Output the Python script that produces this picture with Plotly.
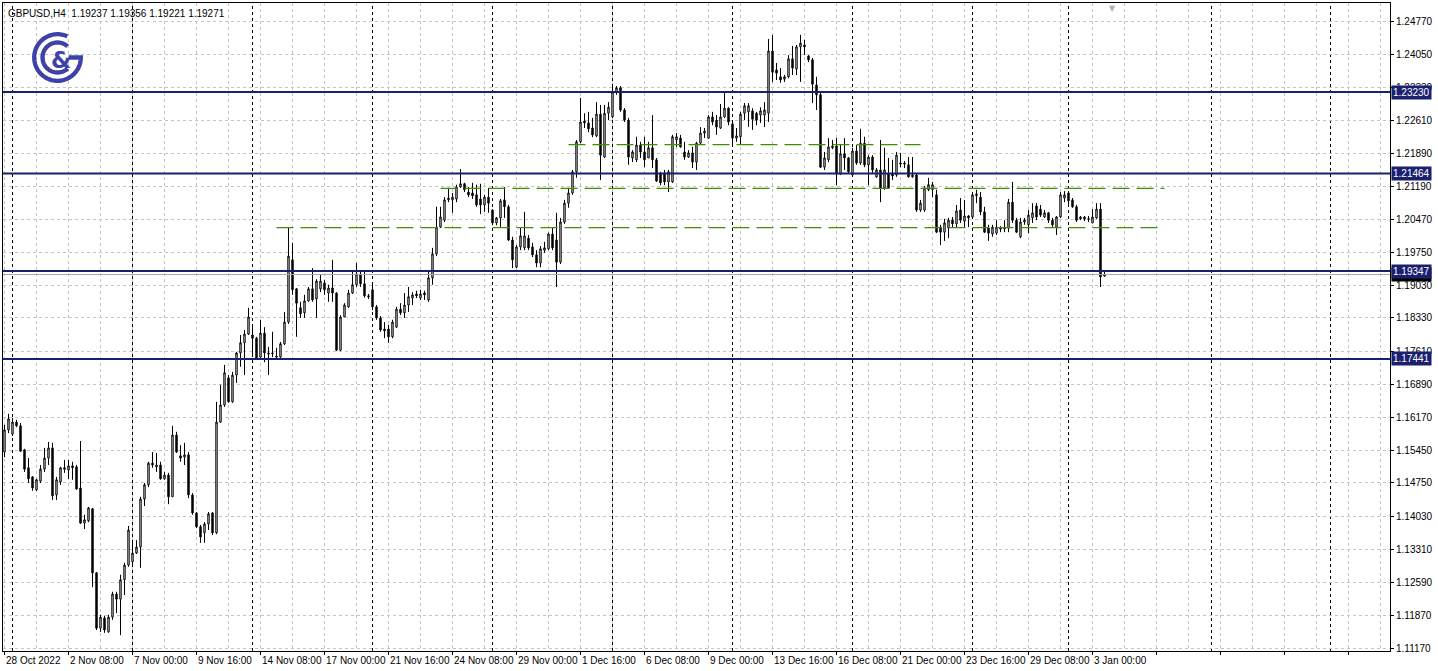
import numpy as np
import plotly.graph_objects as go

# ---------------- data (GBPUSD H4) ----------------
open_ = [
    1.1542, 1.1590, 1.1581, 1.1607, 1.1599, 1.1547, 1.1508, 1.1488, 1.1460, 1.1479,
    1.1505, 1.1529, 1.1551, 1.1449, 1.1477, 1.1508, 1.1503, 1.1512, 1.1510, 1.1464,
    1.1388, 1.1393, 1.1419, 1.1280, 1.1160, 1.1182, 1.1152, 1.1184, 1.1234, 1.1223,
    1.1265, 1.1297, 1.1304, 1.1323, 1.1336, 1.1440, 1.1471, 1.1518, 1.1510, 1.1514,
    1.1484, 1.1492, 1.1445, 1.1579, 1.1534, 1.1531, 1.1536, 1.1449, 1.1410, 1.1380,
    1.1367, 1.1386, 1.1410, 1.1367, 1.1607, 1.1644, 1.1703, 1.1651, 1.1709, 1.1757,
    1.1779, 1.1798, 1.1796, 1.1789, 1.1748, 1.1800, 1.1757, 1.1757, 1.1750, 1.1748,
    1.1777, 1.1824, 1.1959, 1.1896, 1.1855, 1.1844, 1.1870, 1.1896, 1.1874, 1.1896,
    1.1909, 1.1887, 1.1898, 1.1887, 1.1763, 1.1835, 1.1857, 1.1887, 1.1905, 1.1928,
    1.1907, 1.1881, 1.1894, 1.1857, 1.1833, 1.1809, 1.1809, 1.1792, 1.1813, 1.1852,
    1.1844, 1.1861, 1.1876, 1.1885, 1.1876, 1.1887, 1.1872, 1.1920, 1.1972, 1.2030,
    1.2045, 1.2089, 1.2089, 1.2091, 1.2117, 1.2124, 1.2106, 1.2104, 1.2100, 1.2091,
    1.2078, 1.2095, 1.2067, 1.2039, 1.2050, 1.2089, 1.2074, 1.2002, 1.1943, 1.1987,
    1.1985, 1.2006, 1.1987, 1.1970, 1.1952, 1.1980, 1.1983, 1.2015, 1.2002, 1.1954,
    1.2041, 1.2082, 1.2104, 1.2150, 1.2215, 1.2260, 1.2256, 1.2245, 1.2228, 1.2275,
    1.2182, 1.2277, 1.2269, 1.2323, 1.2332, 1.2284, 1.2262, 1.2180, 1.2176, 1.2208,
    1.2193, 1.2180, 1.2202, 1.2176, 1.2147, 1.2147, 1.2128, 1.2128, 1.2219, 1.2223,
    1.2193, 1.2182, 1.2191, 1.2171, 1.2212, 1.2234, 1.2223, 1.2269, 1.2262, 1.2245,
    1.2269, 1.2288, 1.2254, 1.2223, 1.2226, 1.2277, 1.2280, 1.2282, 1.2277, 1.2273,
    1.2273, 1.2277, 1.2412, 1.2371, 1.2356, 1.2351, 1.2356, 1.2395, 1.2373, 1.2421,
    1.2425, 1.2401, 1.2393, 1.2338, 1.2317, 1.2160, 1.2176, 1.2202, 1.2206, 1.2145,
    1.2189, 1.2180, 1.2143, 1.2195, 1.2169, 1.2212, 1.2165, 1.2182, 1.2139, 1.2154,
    1.2115, 1.2147, 1.2147, 1.2143, 1.2169, 1.2169, 1.2165, 1.2139, 1.2143, 1.2067,
    1.2067, 1.2111, 1.2111, 1.2100, 1.2030, 1.2019, 1.2028, 1.2045, 1.2037, 1.2067,
    1.2043, 1.2054, 1.2052, 1.2098, 1.2095, 1.2063, 1.2028, 1.2015, 1.2017, 1.2028,
    1.2026, 1.2028, 1.2084, 1.2045, 1.2009, 1.2041, 1.2035, 1.2050, 1.2076, 1.2069,
    1.2052, 1.2061, 1.2045, 1.2030, 1.2052, 1.2093, 1.2104, 1.2089, 1.2074, 1.2048,
    1.2052, 1.2048, 1.2039, 1.2050, 1.2069, 1.19237,
]
high = [
    1.1601, 1.1625, 1.1616, 1.1612, 1.1605, 1.1549, 1.1529, 1.1490, 1.1484, 1.1514,
    1.1551, 1.1564, 1.1562, 1.1488, 1.1510, 1.1525, 1.1525, 1.1521, 1.1514, 1.1566,
    1.1406, 1.1423, 1.1421, 1.1282, 1.1189, 1.1187, 1.1189, 1.1239, 1.1239, 1.1276,
    1.1302, 1.1382, 1.1351, 1.1351, 1.1445, 1.1475, 1.1521, 1.1542, 1.1540, 1.1521,
    1.1499, 1.1497, 1.1599, 1.1586, 1.1557, 1.1562, 1.1542, 1.1453, 1.1412, 1.1384,
    1.1390, 1.1412, 1.1412, 1.1651, 1.1688, 1.1731, 1.1709, 1.1716, 1.1759, 1.1796,
    1.1807, 1.1855, 1.1818, 1.1792, 1.1829, 1.1813, 1.1770, 1.1803, 1.1768, 1.1781,
    1.1846, 1.2030, 1.1996, 1.1898, 1.1868, 1.1883, 1.1900, 1.1941, 1.1917, 1.1926,
    1.1915, 1.1905, 1.1959, 1.1889, 1.1839, 1.1865, 1.1894, 1.1933, 1.1952, 1.1937,
    1.1937, 1.1885, 1.1905, 1.1861, 1.1837, 1.1824, 1.1818, 1.1829, 1.1857, 1.1865,
    1.1887, 1.1900, 1.1889, 1.1892, 1.1894, 1.1892, 1.1937, 1.1985, 1.2074, 1.2074,
    1.2095, 1.2115, 1.2104, 1.2122, 1.2156, 1.2126, 1.2117, 1.2126, 1.2122, 1.2124,
    1.2100, 1.2115, 1.2069, 1.2052, 1.2091, 1.2117, 1.2078, 1.2009, 1.1991, 1.2030,
    1.2063, 1.2013, 1.1996, 1.1980, 1.1989, 1.1998, 1.2018, 1.2030, 1.2061, 1.2050,
    1.2089, 1.2115, 1.2154, 1.2219, 1.2310, 1.2277, 1.2280, 1.2267, 1.2301, 1.2295,
    1.2295, 1.2301, 1.2334, 1.2336, 1.2336, 1.2288, 1.2267, 1.2197, 1.2226, 1.2215,
    1.2226, 1.2215, 1.2273, 1.2180, 1.2150, 1.2154, 1.2154, 1.2230, 1.2234, 1.2230,
    1.2215, 1.2197, 1.2204, 1.2215, 1.2247, 1.2245, 1.2273, 1.2280, 1.2273, 1.2297,
    1.2323, 1.2290, 1.2258, 1.2245, 1.2280, 1.2299, 1.2299, 1.2288, 1.2280, 1.2290,
    1.2301, 1.2438, 1.2447, 1.2386, 1.2375, 1.2360, 1.2403, 1.2423, 1.2425, 1.2447,
    1.2436, 1.2403, 1.2397, 1.2356, 1.2321, 1.2193, 1.2223, 1.2219, 1.2223, 1.2208,
    1.2223, 1.2182, 1.2202, 1.2208, 1.2243, 1.2226, 1.2186, 1.2186, 1.2158, 1.2219,
    1.2202, 1.2180, 1.2176, 1.2193, 1.2191, 1.2173, 1.2182, 1.2182, 1.2147, 1.2089,
    1.2119, 1.2137, 1.2128, 1.2111, 1.2035, 1.2048, 1.2050, 1.2052, 1.2078, 1.2093,
    1.2089, 1.2056, 1.2106, 1.2111, 1.2106, 1.2074, 1.2035, 1.2035, 1.2045, 1.2032,
    1.2045, 1.2091, 1.2128, 1.2050, 1.2050, 1.2050, 1.2067, 1.2082, 1.2082, 1.2078,
    1.2067, 1.2063, 1.2050, 1.2054, 1.2106, 1.2108, 1.2108, 1.2093, 1.2078, 1.2054,
    1.2054, 1.2054, 1.2069, 1.2082, 1.2082, 1.19356,
]
low = [
    1.1531, 1.1583, 1.1577, 1.1596, 1.1542, 1.1499, 1.1475, 1.1458, 1.1458, 1.1475,
    1.1499, 1.1514, 1.1438, 1.1438, 1.1471, 1.1497, 1.1484, 1.1482, 1.1460, 1.1386,
    1.1375, 1.1390, 1.1249, 1.1156, 1.1152, 1.1150, 1.1150, 1.1178, 1.1193, 1.1145,
    1.1232, 1.1293, 1.1293, 1.1321, 1.1291, 1.1425, 1.1466, 1.1508, 1.1499, 1.1482,
    1.1482, 1.1429, 1.1445, 1.1540, 1.1521, 1.1514, 1.1442, 1.1406, 1.1377, 1.1345,
    1.1345, 1.1373, 1.1362, 1.1364, 1.1605, 1.1640, 1.1649, 1.1649, 1.1692, 1.1727,
    1.1709, 1.1796, 1.1748, 1.1742, 1.1746, 1.1737, 1.1709, 1.1748, 1.1744, 1.1746,
    1.1774, 1.1820, 1.1883, 1.1792, 1.1833, 1.1833, 1.1868, 1.1868, 1.1833, 1.1889,
    1.1883, 1.1868, 1.1868, 1.1761, 1.1761, 1.1835, 1.1855, 1.1885, 1.1900, 1.1900,
    1.1877, 1.1874, 1.1850, 1.1829, 1.1803, 1.1789, 1.1779, 1.1789, 1.1811, 1.1839,
    1.1833, 1.1846, 1.1861, 1.1876, 1.1872, 1.1872, 1.1868, 1.1905, 1.1967, 1.2028,
    1.2041, 1.2084, 1.2061, 1.2084, 1.2115, 1.2106, 1.2095, 1.2091, 1.2074, 1.2058,
    1.2063, 1.2061, 1.2034, 1.2034, 1.2028, 1.2050, 1.2000, 1.1941, 1.1941, 1.1980,
    1.1980, 1.1980, 1.1965, 1.1943, 1.1943, 1.1974, 1.1980, 1.1980, 1.1900, 1.1950,
    1.2037, 1.2072, 1.2100, 1.2137, 1.2212, 1.2245, 1.2236, 1.2225, 1.2225, 1.2132,
    1.2180, 1.2262, 1.2267, 1.2317, 1.2280, 1.2258, 1.2165, 1.2171, 1.2171, 1.2180,
    1.2160, 1.2180, 1.2158, 1.2128, 1.2121, 1.2121, 1.2106, 1.2126, 1.2204, 1.2202,
    1.2176, 1.2180, 1.2158, 1.2154, 1.2208, 1.2223, 1.2221, 1.2251, 1.2230, 1.2243,
    1.2267, 1.2251, 1.2208, 1.2215, 1.2208, 1.2262, 1.2247, 1.2241, 1.2251, 1.2256,
    1.2247, 1.2258, 1.2345, 1.2349, 1.2343, 1.2345, 1.2353, 1.2360, 1.2360, 1.2345,
    1.2403, 1.2388, 1.2299, 1.2284, 1.2158, 1.2154, 1.2171, 1.2199, 1.2121, 1.2143,
    1.2154, 1.2147, 1.2139, 1.2165, 1.2165, 1.2160, 1.2121, 1.2147, 1.2137, 1.2084,
    1.2111, 1.2113, 1.2132, 1.2139, 1.2160, 1.2158, 1.2137, 1.2137, 1.2063, 1.2063,
    1.2063, 1.2108, 1.2095, 1.2017, 1.1991, 1.2000, 1.2006, 1.2030, 1.2030, 1.2039,
    1.2030, 1.2030, 1.2050, 1.2082, 1.2056, 1.2017, 1.2000, 1.2009, 1.2013, 1.2019,
    1.2019, 1.2019, 1.2039, 1.2017, 1.2006, 1.2035, 1.2017, 1.2039, 1.2045, 1.2052,
    1.2050, 1.2039, 1.2028, 1.2013, 1.2050, 1.2084, 1.2074, 1.2072, 1.2041, 1.2045,
    1.2043, 1.2041, 1.2039, 1.2048, 1.1900, 1.19221,
]
close = [
    1.1590, 1.1614, 1.1607, 1.1599, 1.1544, 1.1505, 1.1484, 1.1464, 1.1482, 1.1505,
    1.1529, 1.1551, 1.1447, 1.1482, 1.1508, 1.1505, 1.1512, 1.1508, 1.1462, 1.1388,
    1.1395, 1.1421, 1.1280, 1.1160, 1.1184, 1.1156, 1.1184, 1.1234, 1.1223, 1.1265,
    1.1297, 1.1373, 1.1323, 1.1336, 1.1440, 1.1471, 1.1518, 1.1514, 1.1514, 1.1484,
    1.1492, 1.1445, 1.1579, 1.1542, 1.1529, 1.1536, 1.1449, 1.1410, 1.1380, 1.1358,
    1.1386, 1.1408, 1.1367, 1.1607, 1.1644, 1.1714, 1.1651, 1.1709, 1.1757, 1.1779,
    1.1798, 1.1835, 1.1789, 1.1746, 1.1800, 1.1757, 1.1755, 1.1756, 1.1748, 1.1777,
    1.1824, 1.1967, 1.1894, 1.1865, 1.1842, 1.1870, 1.1896, 1.1872, 1.1913, 1.1913,
    1.1894, 1.1898, 1.1887, 1.1763, 1.1835, 1.1861, 1.1887, 1.1905, 1.1928, 1.1907,
    1.1881, 1.1879, 1.1857, 1.1833, 1.1807, 1.1805, 1.1792, 1.1824, 1.1852, 1.1844,
    1.1861, 1.1879, 1.1883, 1.1881, 1.1885, 1.1883, 1.1920, 1.1972, 1.2030, 1.2052,
    1.2089, 1.2093, 1.2095, 1.2117, 1.2124, 1.2111, 1.2100, 1.2098, 1.2078, 1.2078,
    1.2095, 1.2082, 1.2039, 1.2050, 1.2087, 1.2074, 1.2002, 1.1959, 1.1987, 1.2011,
    1.2011, 1.1985, 1.1970, 1.1952, 1.1983, 1.1985, 1.2015, 1.1985, 1.1954, 1.2041,
    1.2082, 1.2104, 1.2150, 1.2215, 1.2258, 1.2256, 1.2243, 1.2230, 1.2275, 1.2186,
    1.2277, 1.2290, 1.2323, 1.2332, 1.2284, 1.2262, 1.2182, 1.2193, 1.2208, 1.2193,
    1.2176, 1.2202, 1.2176, 1.2130, 1.2126, 1.2128, 1.2150, 1.2226, 1.2226, 1.2204,
    1.2182, 1.2191, 1.2171, 1.2212, 1.2234, 1.2238, 1.2269, 1.2258, 1.2247, 1.2269,
    1.2288, 1.2258, 1.2223, 1.2228, 1.2275, 1.2293, 1.2293, 1.2264, 1.2262, 1.2282,
    1.2284, 1.2412, 1.2366, 1.2364, 1.2349, 1.2356, 1.2395, 1.2375, 1.2421, 1.2429,
    1.2421, 1.2393, 1.2340, 1.2317, 1.2160, 1.2180, 1.2204, 1.2206, 1.2145, 1.2189,
    1.2180, 1.2150, 1.2195, 1.2169, 1.2212, 1.2165, 1.2182, 1.2154, 1.2154, 1.2115,
    1.2154, 1.2115, 1.2141, 1.2186, 1.2167, 1.2167, 1.2139, 1.2143, 1.2067, 1.2082,
    1.2115, 1.2122, 1.2122, 1.2019, 1.2019, 1.2039, 1.2045, 1.2037, 1.2065, 1.2045,
    1.2054, 1.2050, 1.2100, 1.2102, 1.2063, 1.2019, 1.2017, 1.2030, 1.2030, 1.2026,
    1.2030, 1.2084, 1.2045, 1.2019, 1.2041, 1.2045, 1.2056, 1.2061, 1.2052, 1.2056,
    1.2061, 1.2045, 1.2035, 1.2052, 1.2100, 1.2100, 1.2087, 1.2074, 1.2045, 1.2052,
    1.2048, 1.2047, 1.2052, 1.2069, 1.1922, 1.19271,
]
bar_index = list(range(len(open_)))

# time axis labels (bar positions on the H4 axis, weekends skipped)
date_tick_bars = [0, 16, 32, 48, 64, 80, 96, 112, 128, 144, 160, 176, 192, 208, 224, 240, 256, 272]
date_tick_labels = ["28 Oct 2022", "2 Nov 08:00", "7 Nov 00:00", "9 Nov 16:00", "14 Nov 08:00",
                    "17 Nov 00:00", "21 Nov 16:00", "24 Nov 08:00", "29 Nov 00:00", "1 Dec 16:00",
                    "6 Dec 08:00", "9 Dec 00:00", "13 Dec 16:00", "16 Dec 08:00", "21 Dec 00:00",
                    "23 Dec 16:00", "29 Dec 08:00", "3 Jan 00:00"]
week_separator_bars = [2, 32, 62, 92, 122, 152, 182, 212, 242, 266, 301.75, 331.5]

price_ticks = [1.24770, 1.24050, 1.23330, 1.22610, 1.21890, 1.21190, 1.20470, 1.19750, 1.19030,
               1.18330, 1.17610, 1.16890, 1.16170, 1.15450, 1.14750, 1.14030, 1.13310, 1.12590,
               1.11870, 1.11170]

level_prices = [1.23230, 1.21464, 1.19347, 1.17441]
zone_prices = [1.2209, 1.2114, 1.2029]
zone_start_bar = [141, 109, 68]
zone_end_bar = [229, 290, 288.5]
bid_price = 1.19271
symbol_title = "GBPUSD,H4  1.19237 1.19356 1.19221 1.19271"

# ---------------- styling ----------------
NAVY = "#1b1f6e"
GREEN = "#3f8f00"
GRID = "#c4c4c4"
LOGO = "#3d41a8"
FONT = "Liberation Sans"

fig = go.Figure()
fig.add_trace(go.Candlestick(
    x=bar_index, open=open_, high=high, low=low, close=close,
    increasing=dict(line=dict(color="black", width=1), fillcolor="white"),
    decreasing=dict(line=dict(color="black", width=1), fillcolor="black"),
    whiskerwidth=0, hoverinfo="skip", showlegend=False,
))

shapes = []
for b in week_separator_bars:
    shapes.append(dict(type="line", xref="x", yref="paper", x0=b, x1=b, y0=0, y1=1,
                       line=dict(color="black", width=1, dash="3px,3px"), layer="between"))
shapes.append(dict(type="line", xref="paper", yref="y", x0=0, x1=1, y0=bid_price, y1=bid_price,
                   line=dict(color="#a8a8a8", width=1)))
for p in level_prices:
    shapes.append(dict(type="line", xref="paper", yref="y", x0=0, x1=1, y0=p, y1=p,
                       line=dict(color=NAVY, width=2)))
for p, s, e in zip(zone_prices, zone_start_bar, zone_end_bar):
    shapes.append(dict(type="line", xref="x", yref="y", x0=s, x1=e, y0=p, y1=p,
                       line=dict(color=GREEN, width=1.3, dash="17px,7px")))


# logo (pixel-sized paths anchored at the plot's top-left corner)
def arc(cx, cy, r, a0, a1, n=80):
    t = np.radians(np.linspace(a0, a1, n))
    return [(cx + r * np.cos(a), cy + r * np.sin(a)) for a in t]


def to_path(pts):
    return "M " + " L ".join(f"{x:.2f},{y:.2f}" for x, y in pts)


cx, cy = 54.5, -54.5
outer = arc(cx, cy, 23.3, 65, 360) + [(cx + 11, cy)]
inner = arc(cx, cy, 15.0, 48, 312)
for pts in (outer, inner):
    shapes.append(dict(type="path", xref="paper", yref="paper", xsizemode="pixel", ysizemode="pixel",
                       xanchor=0, yanchor=1, path=to_path(pts),
                       line=dict(color=LOGO, width=4.3), fillcolor="rgba(0,0,0,0)"))

annotations = []
annotations.append(dict(text="&", xref="paper", yref="paper", x=0, y=1, xanchor="center", yanchor="middle",
                        xshift=58, yshift=-57, showarrow=False,
                        font=dict(family="DejaVu Sans", size=23, color=LOGO, weight="bold")))
annotations.append(dict(text=symbol_title, xref="paper", yref="paper", x=0, y=1, xanchor="left", yanchor="top",
                        xshift=3, yshift=-3, showarrow=False, font=dict(family=FONT, size=10, color="black")))
for b, t in zip(date_tick_bars, date_tick_labels):
    annotations.append(dict(text=t, xref="x", yref="paper", x=b, y=0, xanchor="left", yanchor="top",
                            xshift=-1, yshift=-2, showarrow=False, font=dict(family=FONT, size=10, color="black")))
annotations.append(dict(text=f"{bid_price:.5f}", xref="paper", yref="y", x=1, y=bid_price, xanchor="left",
                        yanchor="middle", xshift=1, showarrow=False, bgcolor="black", borderpad=1,
                        font=dict(family=FONT, size=10, color="white")))
for p in level_prices:
    annotations.append(dict(text=f"{p:.5f}", xref="paper", yref="y", x=1, y=p, xanchor="left",
                            yanchor="middle", xshift=1, showarrow=False, bgcolor=NAVY, borderpad=1,
                            font=dict(family=FONT, size=10, color="white")))
annotations.append(dict(text="▼", xref="x", yref="paper", x=277, y=1, xanchor="center", yanchor="top",
                        yshift=1, showarrow=False, font=dict(family="DejaVu Sans", size=8, color="#b0b0b0")))

fig.update_layout(
    width=1438, height=671, autosize=False,
    margin=dict(l=3, r=48, t=3, b=20, pad=0),
    paper_bgcolor="white", plot_bgcolor="white",
    shapes=shapes, annotations=annotations,
    showlegend=False, hovermode=False, boxgap=0.5,
    font=dict(family=FONT, size=10, color="black"),
    xaxis=dict(
        range=[-0.375, 346.375], tickmode="linear", tick0=0, dtick=16, showticklabels=False,
        ticks="outside", ticklen=3, tickcolor="black",
        showgrid=True, gridcolor=GRID, griddash="3px,3px", gridwidth=1,
        minor=dict(tick0=0, dtick=8, showgrid=True, gridcolor=GRID, griddash="3px,3px", ticks=""),
        showline=True, linecolor="black", linewidth=1, mirror=True, zeroline=False,
        rangeslider=dict(visible=False), fixedrange=True,
    ),
    yaxis=dict(
        range=[1.11105, 1.25161], side="right", tickmode="array", tickvals=price_ticks,
        ticktext=[f"{v:.5f}" for v in price_ticks], ticks="outside", ticklen=3, tickcolor="black",
        tickfont=dict(family=FONT, size=10, color="black"),
        showgrid=True, gridcolor=GRID, griddash="3px,3px", gridwidth=1,
        showline=True, linecolor="black", linewidth=1, mirror=True, zeroline=False, fixedrange=True,
    ),
)

fig.write_html("out.html", config={"displayModeBar": False},
               post_script="document.body.style.margin='0';document.body.style.overflow='hidden';")
